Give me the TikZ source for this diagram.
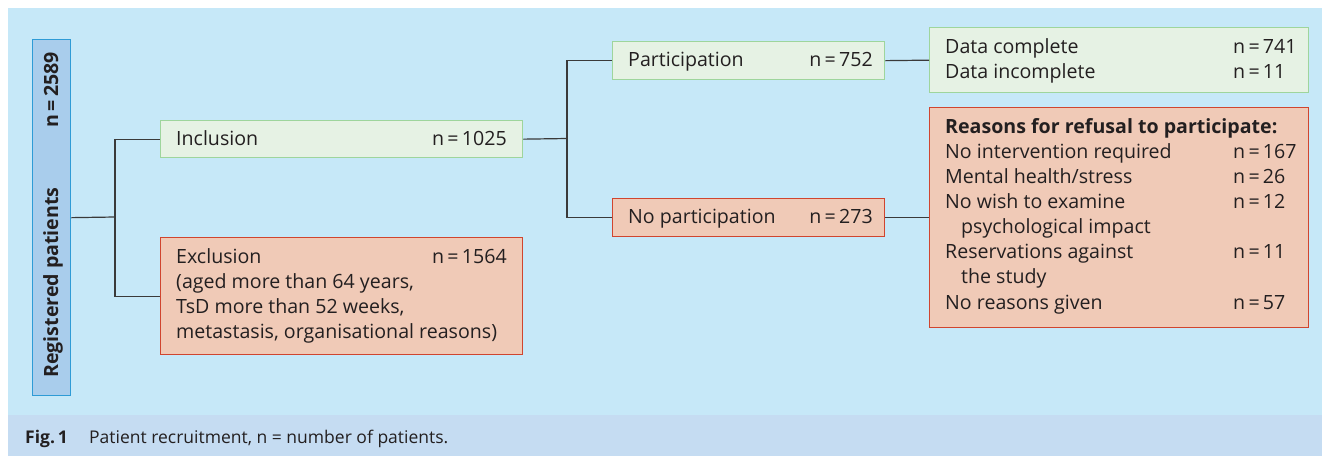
\documentclass[tikz,border=0pt]{standalone}
\usepackage{fontspec}
\setmainfont{Open Sans}
\definecolor{panel}{HTML}{C6E8F8}
\definecolor{capband}{HTML}{C5DCF2}
\definecolor{regfill}{HTML}{A9CDEC}
\definecolor{regdraw}{HTML}{2E9BD6}
\definecolor{gfill}{HTML}{E6F2E4}
\definecolor{gdraw}{HTML}{9ED59C}
\definecolor{rfill}{HTML}{F0CAB7}
\definecolor{rdraw}{HTML}{D0452F}
\definecolor{txt}{HTML}{231F20}
\definecolor{lncol}{HTML}{3A3A3A}
\begin{document}
\begin{tikzpicture}[x=1pt,y=-1pt,
  boxbase/.style={rectangle, line width=1.3pt, inner sep=0pt, anchor=north west},
  regbox/.style={boxbase, fill=regfill, draw=regdraw},
  gbox/.style={boxbase, fill=gfill, draw=gdraw},
  rbox/.style={boxbase, fill=rfill, draw=rdraw},
  tx/.style={anchor=base west, inner sep=0pt, text=txt, font=\fontsize{19.6}{25}\selectfont},
  captx/.style={anchor=base west, inner sep=0pt, text=txt, font=\fontsize{17.5}{20}\selectfont},
  conn/.style={draw=lncol, line width=1.2pt}
]
\useasboundingbox (0,0) rectangle (1322,456);
\fill[white] (0,0) rectangle (1322,456);
\fill[panel] (8,8) rectangle (1322,415);
\fill[capband] (8,415) rectangle (1322,456);

% boxes
\node[regbox, minimum width=38pt, minimum height=356pt] (reg) at (32,39) {};
\node[gbox, minimum width=362pt, minimum height=37pt] (incl) at (160,120) {};
\node[rbox, minimum width=362pt, minimum height=117pt] (excl) at (160,237) {};
\node[gbox, minimum width=272pt, minimum height=38pt] (part) at (612,41) {};
\node[rbox, minimum width=272pt, minimum height=38pt] (nopart) at (612,198) {};
\node[gbox, minimum width=379pt, minimum height=65pt] (data) at (929,27) {};
\node[rbox, minimum width=379pt, minimum height=220pt] (reas) at (929,107) {};

% connectors
\coordinate (j1) at (115,217);
\coordinate (j2) at (567,138.5);
\draw[conn] (reg.east) -- (j1);
\draw[conn] (incl.west) -| (j1) |- (excl.west);
\draw[conn] (incl.east) -- (j2);
\draw[conn] (part.west) -| (j2) |- (nopart.west);
\draw[conn] (part.east) -- (data.west);
\draw[conn] (nopart.east) -- (reas.west);

% registered text
\node[tx, rotate=90, font=\fontsize{19.6}{25}\selectfont\bfseries] (regt) at (58,378) {Registered patients};
\node[tx, rotate=90, anchor=base east, font=\fontsize{19.6}{25}\selectfont\bfseries] (regn) at (58,52) {n\,=\,2589};

% inclusion / exclusion
\node[tx] (inclt) at (176,145) {Inclusion};
\node[tx, anchor=base east] (incln) at (507,145) {n\,=\,1025};
\node[tx] (exclt) at (176,263) {Exclusion};
\node[tx, anchor=base east] (excln) at (507,263) {n\,=\,1564};
\node[tx] (excl1) at (176,288) {(aged more than 64 years,};
\node[tx] (excl2) at (176,313) {TsD more than 52 weeks,};
\node[tx] (excl3) at (176,338) {metastasis, organisational reasons)};

% participation
\node[tx] (partt) at (628,66) {Participation};
\node[tx, anchor=base east] (partn) at (873,66) {n\,=\,752};
\node[tx] (nopartt) at (628,223) {No participation};
\node[tx, anchor=base east] (nopartn) at (873,223) {n\,=\,273};

% data
\node[tx] (d1) at (945,53) {Data complete};
\node[tx] (d1n) at (1233,53) {n\,=\,741};
\node[tx] (d2) at (945,78) {Data incomplete};
\node[tx] (d2n) at (1233,78) {n\,=\,11};

% reasons
\node[tx, font=\fontsize{19.6}{25}\selectfont\bfseries] (r0) at (945,133) {Reasons for refusal to participate:};
\node[tx] (r1) at (945,158) {No intervention required};
\node[tx] (r1n) at (1233,158) {n\,=\,167};
\node[tx] (r2) at (945,183) {Mental health/stress};
\node[tx] (r2n) at (1233,183) {n\,=\,26};
\node[tx] (r3) at (945,208) {No wish to examine};
\node[tx] (r3n) at (1233,208) {n\,=\,12};
\node[tx] (r3b) at (961,233) {psychological impact};
\node[tx] (r4) at (945,258) {Reservations against};
\node[tx] (r4n) at (1233,258) {n\,=\,11};
\node[tx] (r4b) at (961,283) {the study};
\node[tx] (r5) at (945,309) {No reasons given};
\node[tx] (r5n) at (1233,309) {n\,=\,57};

% caption
\node[captx, font=\fontsize{17.5}{20}\selectfont\bfseries] (figl) at (25,443) {Fig.\,1};
\node[captx] (capt) at (89,443) {Patient recruitment, n = number of patients.};
\end{tikzpicture}
\end{document}
